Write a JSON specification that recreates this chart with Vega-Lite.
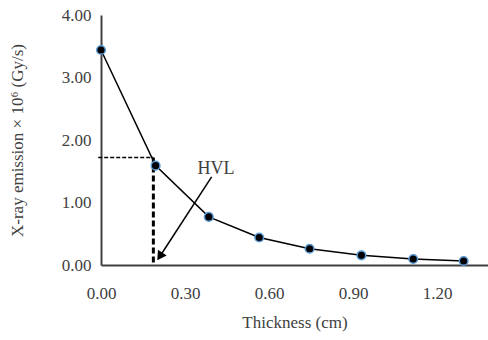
{
  "$schema": "https://vega.github.io/schema/vega-lite/v6.json",
  "autosize": "none",
  "width": 387,
  "height": 250,
  "padding": {"left": 101, "top": 15, "right": 0, "bottom": 75},
  "background": "white",
  "config": {
    "view": {"stroke": null},
    "font": "Liberation Serif",
    "axis": {
      "grid": false,
      "ticks": false,
      "labelFlush": false,
      "domainColor": "#404040",
      "domainWidth": 2,
      "labelFont": "Liberation Serif",
      "labelFontSize": 17,
      "labelColor": "#404040",
      "titleFont": "Liberation Serif",
      "titleFontSize": 17,
      "titleFontWeight": "normal",
      "titleColor": "#404040"
    }
  },
  "datasets": {
    "pts": [
      {"t": 0.0, "e": 3.44},
      {"t": 0.195, "e": 1.59},
      {"t": 0.385, "e": 0.77},
      {"t": 0.565, "e": 0.44},
      {"t": 0.745, "e": 0.26},
      {"t": 0.93, "e": 0.155},
      {"t": 1.115, "e": 0.096},
      {"t": 1.295, "e": 0.064}
    ],
    "hline": [{"x": -0.01, "x2": 0.187, "y": 1.72}],
    "vline": [{"x": 0.187, "y": 1.72, "y2": 0}],
    "arrow": [{"x": 0.395, "y": 1.41, "x2": 0.21, "y2": 0.136}],
    "head": [{"x": 0.21, "y": 0.136}],
    "label": [{"x": 0.411, "y": 1.53, "txt": "HVL"}]
  },
  "layer": [
    {
      "data": {"name": "hline"},
      "mark": {"type": "rule", "color": "#000000", "strokeWidth": 1.5, "strokeDash": [4, 2]},
      "encoding": {
        "x": {"field": "x", "type": "quantitative", "scale": {"domain": [0, 1.382], "nice": false},
              "axis": {"values": [0, 0.3, 0.6, 0.9, 1.2], "format": ".2f", "labelPadding": 20, "title": "Thickness (cm)", "titlePadding": 13}},
        "x2": {"field": "x2"},
        "y": {"field": "y", "type": "quantitative", "scale": {"domain": [0, 4], "nice": false},
              "axis": {"values": [0, 1, 2, 3, 4], "format": ".2f", "labelPadding": 10, "title": "X-ray emission × 10⁶ (Gy/s)", "titlePadding": 35}}
      }
    },
    {
      "data": {"name": "vline"},
      "mark": {"type": "rule", "color": "#000000", "strokeWidth": 3, "strokeDash": [6, 3]},
      "encoding": {
        "x": {"field": "x", "type": "quantitative"},
        "y": {"field": "y", "type": "quantitative"},
        "y2": {"field": "y2"}
      }
    },
    {
      "data": {"name": "pts"},
      "mark": {"type": "line", "color": "#000000", "strokeWidth": 1.5},
      "encoding": {
        "x": {"field": "t", "type": "quantitative"},
        "y": {"field": "e", "type": "quantitative"}
      }
    },
    {
      "data": {"name": "pts"},
      "mark": {"type": "point", "filled": true, "fill": "#000000", "stroke": "#5B9BD5", "strokeWidth": 1.5, "size": 75, "opacity": 1},
      "encoding": {
        "x": {"field": "t", "type": "quantitative"},
        "y": {"field": "e", "type": "quantitative"}
      }
    },
    {
      "data": {"name": "arrow"},
      "mark": {"type": "rule", "color": "#000000", "strokeWidth": 1.5},
      "encoding": {
        "x": {"field": "x", "type": "quantitative"},
        "y": {"field": "y", "type": "quantitative"},
        "x2": {"field": "x2"},
        "y2": {"field": "y2"}
      }
    },
    {
      "data": {"name": "head"},
      "mark": {"type": "point", "shape": "triangle-up", "filled": true, "color": "#000000", "size": 110, "angle": 213.5, "opacity": 1},
      "encoding": {
        "x": {"field": "x", "type": "quantitative"},
        "y": {"field": "y", "type": "quantitative"}
      }
    },
    {
      "data": {"name": "label"},
      "mark": {"type": "text", "font": "Liberation Serif", "fontSize": 18, "color": "#404040", "align": "center", "baseline": "middle"},
      "encoding": {
        "x": {"field": "x", "type": "quantitative"},
        "y": {"field": "y", "type": "quantitative"},
        "text": {"field": "txt"}
      }
    }
  ]
}
